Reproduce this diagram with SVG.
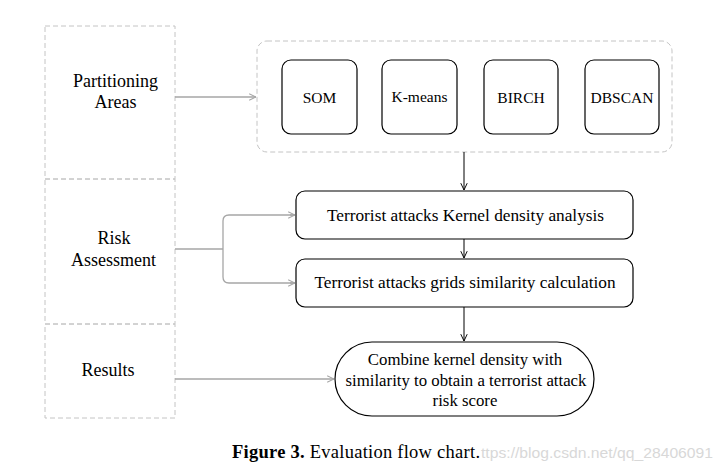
<svg xmlns="http://www.w3.org/2000/svg" width="723" height="471" viewBox="0 0 723 471">
<defs>
<style>
.t{font-family:"Liberation Serif","Times New Roman",serif;fill:#000;text-anchor:middle}
.lane{fill:none;stroke:#c4c4c4;stroke-width:1;stroke-dasharray:5,3}
.box{fill:#fff;stroke:#000;stroke-width:1.2}
.gl{fill:none;stroke:#a6a6a6;stroke-width:1.3}
.bl{fill:none;stroke:#000;stroke-width:1}
</style>
<marker id="ag" viewBox="0 0 10 10" refX="9.5" refY="5" markerWidth="8" markerHeight="8" markerUnits="userSpaceOnUse" orient="auto"><path d="M1,1 L9.5,5 L1,9" fill="none" stroke="#a6a6a6" stroke-width="1.3"/></marker>
<marker id="ab" viewBox="0 0 10 10" refX="9.5" refY="5" markerWidth="8" markerHeight="8" markerUnits="userSpaceOnUse" orient="auto"><path d="M1,1 L9.5,5 L1,9" fill="none" stroke="#000" stroke-width="1.2"/></marker>
</defs>
<rect width="723" height="471" fill="#fff"/>
<g id="lane-partitioning">
<rect class="lane" x="45" y="26" width="130" height="153"/>
<text class="t" font-size="18" x="115.5" y="87">Partitioning</text>
<text class="t" font-size="18" x="115.5" y="108">Areas</text>
</g>
<g id="lane-risk">
<rect class="lane" x="45" y="179" width="130" height="145"/>
<text class="t" font-size="18" x="114" y="244">Risk</text>
<text class="t" font-size="18" x="113.5" y="266">Assessment</text>
</g>
<g id="lane-results">
<rect class="lane" x="45" y="324" width="130" height="94"/>
<text class="t" font-size="18" x="108" y="376">Results</text>
</g>
<g id="clustering-group">
<rect class="lane" x="257" y="41" width="415" height="111" rx="10" stroke-dasharray="4,2"/>
</g>
<g id="som"><rect class="box" x="282" y="60" width="75" height="74" rx="9"/><text class="t" font-size="15.5" x="319.5" y="103">SOM</text></g>
<g id="kmeans"><rect class="box" x="382" y="60" width="75" height="74" rx="9"/><text class="t" font-size="15.5" x="419.5" y="102">K-means</text></g>
<g id="birch"><rect class="box" x="484" y="60" width="74" height="74" rx="9"/><text class="t" font-size="15.5" x="521" y="103">BIRCH</text></g>
<g id="dbscan"><rect class="box" x="585" y="60" width="74" height="74" rx="9"/><text class="t" font-size="15.5" x="622" y="103">DBSCAN</text></g>
<g id="kernel"><rect class="box" x="296" y="191" width="337" height="48" rx="9"/><text class="t" font-size="17.3" x="465.5" y="221">Terrorist attacks Kernel density analysis</text></g>
<g id="grids"><rect class="box" x="296" y="259" width="337" height="48" rx="9"/><text class="t" font-size="17.3" x="465" y="288">Terrorist attacks grids similarity calculation</text></g>
<g id="result">
<rect class="box" x="335" y="342" width="259" height="74" rx="37"/>
<text class="t" font-size="16.8" x="465" y="365">Combine kernel density with</text>
<text class="t" font-size="16.8" x="466" y="386">similarity to obtain a terrorist attack</text>
<text class="t" font-size="16.8" x="465" y="406">risk score</text>
</g>
<g id="connectors">
<line class="gl" x1="175" y1="97" x2="256" y2="97" marker-end="url(#ag)"/>
<path class="gl" d="M175,249 H223 M295,215 H229 Q223,215 223,221 V277 Q223,283 229,283 H295" />
<line class="gl" x1="290" y1="215" x2="295" y2="215" marker-end="url(#ag)"/>
<line class="gl" x1="290" y1="283" x2="295" y2="283" marker-end="url(#ag)"/>
<line class="gl" x1="175" y1="379" x2="334" y2="379" marker-end="url(#ag)"/>
<line class="bl" x1="464" y1="152" x2="464" y2="190" marker-end="url(#ab)"/>
<line class="bl" x1="464" y1="239" x2="464" y2="258" marker-end="url(#ab)"/>
<line class="bl" x1="464" y1="307" x2="464" y2="341" marker-end="url(#ab)"/>
</g>
<g id="caption">
<text x="232" y="458" font-family="'Liberation Serif','Times New Roman',serif" font-size="18.5" fill="#000" textLength="248" lengthAdjust="spacing"><tspan font-weight="bold">Figure 3.</tspan> Evaluation flow chart.</text>
<text x="481" y="458" font-family="'Liberation Sans',Arial,sans-serif" font-size="15" fill="#d8d8d8" textLength="232" lengthAdjust="spacingAndGlyphs">ttps://blog.csdn.net/qq_28406091</text>
</g>
</svg>
